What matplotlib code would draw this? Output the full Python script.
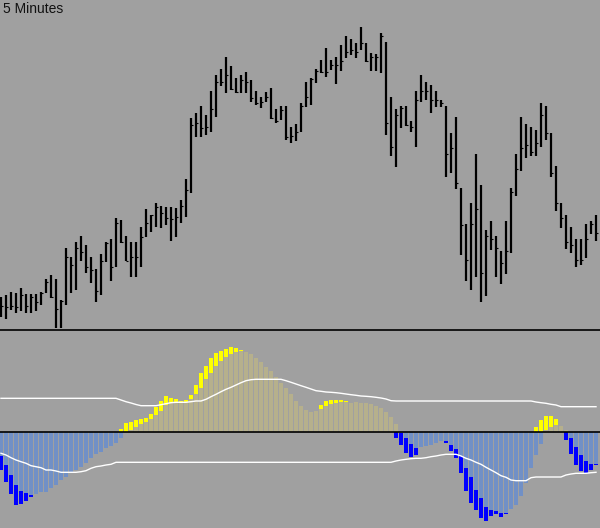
import numpy as np
import matplotlib
matplotlib.use('Agg')
import matplotlib.pyplot as plt

# price bars (arbitrary points, 120 x 5-minute bars)
highs = [32.7, 35, 38.3, 36.7, 42, 36, 36, 35.7, 38.3, 50.7,
         55, 50.7, 30, 81.7, 73.3, 88.3, 94, 85, 73.3, 60.7,
         76, 88.3, 90.7, 111.7, 110, 94, 88.3, 88.3, 103.3, 120.7,
         115, 126.7, 124, 123.3, 123.3, 121.7, 130, 151, 212, 217.3,
         224, 215, 239.3, 255, 260.7, 273.3, 264, 251.7, 255, 258.3,
         250, 239.3, 233.3, 238.3, 241.7, 220.7, 224, 224, 203.3, 206,
         226.7, 248.3, 251.7, 260.7, 270, 281.7, 270, 273.3, 285, 294,
         290.7, 287.3, 303.3, 286.7, 276.7, 276, 296.7, 288.3, 232.7, 220.7,
         224, 224, 209.3, 239.3, 255, 248.3, 245, 239.3, 230, 224,
         197.3, 212.7, 141.7, 106, 127.3, 176, 145, 100, 109, 94,
         79.3, 109, 141.7, 176, 212.7, 206, 203.3, 200, 227.3, 224,
         197.3, 164, 127.3, 115, 103.3, 90.7, 90.7, 106, 109.3, 115]
lows = [13.3, 10.7, 20, 16.7, 19.3, 16.7, 16.7, 19.3, 25, 36.7,
        31.7, 1.7, 1.7, 25, 36.7, 40, 69, 56.7, 46.7, 28.3,
        35, 68.3, 49.3, 62.7, 86.7, 69, 53.3, 53.3, 62.7, 92.7,
        98.3, 103.3, 101.7, 105, 89.3, 92.7, 107.3, 113.3, 137.3, 193.3,
        192.7, 195, 198.3, 213.3, 244, 237.3, 240, 237.3, 237.3, 237.3,
        228.3, 225, 221.7, 228.3, 210.7, 207.3, 210, 190, 186.7, 189.3,
        198.3, 223.3, 225, 246.7, 256.7, 253.3, 260, 246, 259.3, 271.7,
        275, 271.7, 280, 268.3, 259.3, 259.3, 256.7, 195, 174, 162.7,
        201.7, 204, 198.3, 183.3, 228.3, 230, 216.7, 222.7, 222.7, 153.3,
        156.7, 140.7, 75, 49.3, 40, 53.3, 28.3, 34, 80, 53.3,
        46, 56, 77.3, 134, 159.3, 171.7, 174, 174, 183.3, 190,
        153.3, 119.3, 101.7, 80.7, 77.3, 62.7, 65, 71.7, 96, 89.3]
closes = [24, 23.3, 24, 23.3, 35, 24, 33, 28, 36.7, 48.3,
          32.7, 21, 29.3, 72.7, 65, 81.7, 78.3, 62.7, 60, 39.3,
          69.3, 87.3, 63.3, 106.7, 88.3, 69.3, 72.7, 72.7, 93.3, 106.7,
          115, 123.3, 117.3, 111.7, 110.7, 112.7, 124, 140, 205, 206.7,
          201.7, 203.3, 220.7, 248.3, 248.3, 255, 240.7, 238.3, 250, 248.3,
          231.7, 226.7, 228.3, 233.3, 211.7, 209.3, 220, 193.3, 194, 198.3,
          224, 233.3, 250.7, 259.3, 258.3, 258.3, 265, 265, 269.3, 278.3,
          280, 278.3, 287.3, 269.3, 273.3, 273.3, 294, 206.7, 182.7, 215,
          221.7, 205, 202.7, 230, 239.3, 239.3, 230, 230, 227.3, 176,
          181.7, 147.3, 105, 70, 106, 120.7, 57.3, 94, 90.7, 81.7,
          66.7, 79.3, 138.3, 160.7, 181.7, 185, 178.3, 187.3, 215, 196.7,
          157.3, 127.3, 111.7, 88.3, 85, 70, 70, 90.7, 106, 97.3]

# oscillator: slow histogram, fast histogram, upper / lower band
slow = [-23.7, -32.7, -42.7, -52.7, -58.7, -61, -62.4, -62, -60, -59.4,
        -56, -52.7, -47.7, -44.4, -39.4, -37.7, -34.4, -30.4, -26, -21.7,
        -19.4, -16, -13.7, -10.4, -6, 0.7, 2.3, 5.7, 8.3, 10.7,
        13, 17.3, 21.7, 27.3, 29.7, 30.7, 30, 30.7, 33.3, 38.3,
        44, 53, 59, 66.7, 71.3, 75.7, 78.3, 80.7, 81.3, 80.7,
        78, 74.7, 70.7, 65.7, 61.7, 55.7, 49, 44, 38.3, 31.7,
        26.3, 22.3, 20.7, 21.7, 23.3, 26.3, 28.3, 29.7, 30.3, 30.3,
        29.7, 30, 29.7, 29.7, 28.3, 26.3, 24, 20.7, 15.7, 8.3,
        -1, -6, -11.7, -16, -15, -13.3, -12.7, -11, -8.7, -8.7,
        -12.7, -16.7, -23.7, -35.3, -44.3, -57.7, -66, -74.3, -77.7, -78.7,
        -80.3, -80.3, -77, -72.7, -63.7, -51, -36, -22.7, -11.7, 2,
        5, 7.3, 6.3, 2, -6, -14.3, -22.7, -28.3, -31.7, -31.7]
fast = [-37.7, -49.4, -61.7, -72.7, -71.7, -68.7, -64.4, -60, -56, -53,
        -48, -43, -36, -33, -28, -26, -22, -17, -12, -9,
        -7, -4, -2, -1, 3.3, 9, 10.7, 12.3, 13, 14,
        18.3, 25, 31.3, 36.3, 34, 33.3, 31.7, 32.3, 37.3, 47.3,
        59, 66.3, 74, 79, 81.7, 83.3, 85.7, 84.7, 82.3, 78,
        72, 65, 58, 50, 44, 36, 29, 24, 19, 15,
        14, 16, 19, 21, 27.3, 31.3, 32.3, 32.3, 32, 31.3,
        29, 28, 27, 26, 22, 17, 12, 5, 1, -5.3,
        -12.7, -20.3, -24.3, -22.7, -14, -10, -9, -8, -8, -11,
        -18.7, -25.3, -40.3, -58.3, -70.3, -77.7, -86, -88.3, -83.3, -81.7,
        -84.3, -81.7, -72, -60, -45, -28, -12, 5, 12.3, 16.3,
        16.3, 13, 4, -7.7, -21.7, -32.7, -38.3, -40.3, -37.7, -32.7]
upper = [34, 34, 34, 34, 34, 34, 34, 34, 34, 34,
         34, 34, 34, 34, 34, 34, 34, 34, 34, 34,
         34, 34, 34, 34, 32.3, 30.6, 29.3, 27.8, 26.6, 26.6,
         26.6, 26.6, 27.6, 28.6, 29.6, 30, 30, 30, 30.6, 31.3,
         31.3, 33, 35.6, 38, 40.6, 43, 45, 47.3, 49.6, 51.6,
         52.6, 53, 53, 53, 53, 53, 53, 51.6, 50, 48.3,
         46.6, 45, 43.3, 41.6, 41, 40.3, 40, 39.6, 39, 38.3,
         37.6, 37, 36.3, 36, 35.6, 35, 34.3, 33.3, 31.6, 31.3,
         31.3, 31.3, 31.3, 31.3, 31.3, 31.3, 31.3, 31.3, 31.3, 31.3,
         31.3, 31.3, 31.3, 31.3, 31.3, 31.3, 31.3, 31.3, 31.3, 31.3,
         31.3, 31.3, 31.3, 31.3, 31.3, 31.3, 31.3, 30.3, 29.6, 29,
         28, 27.3, 25.6, 25.6, 25.6, 25.6, 25.6, 25.6, 25.6, 25.6]
lower = [-21, -22.7, -25.4, -27.7, -29.4, -31, -33.4, -34.4, -35.4, -37.7,
         -37.7, -38.7, -40, -40, -40, -40, -39.4, -38.4, -36, -34.4,
         -33.7, -32.7, -32, -30, -30, -30, -30, -30, -30, -30,
         -30, -30, -30, -30, -30, -30, -30, -30, -30, -30,
         -30, -30, -30, -30, -30, -30, -30, -30, -30, -30,
         -30, -30, -30, -30, -30, -30, -30, -30, -30, -30,
         -30, -30, -30, -30, -30, -30, -30, -30, -30, -30,
         -30, -30, -30, -30, -30, -30, -30, -30, -30, -28.7,
         -27.7, -27, -26.4, -26, -26, -25.4, -24.4, -23.7, -22.7, -22,
         -22, -22, -23.7, -26, -27.7, -30, -32, -35, -37.7, -40.4,
         -43.4, -45, -47.7, -48.4, -48.4, -48.4, -45.4, -44.7, -44.7, -44.7,
         -44.7, -44.7, -44.7, -42.7, -41.7, -41, -41, -41, -40.4, -40]

bg = '#a0a0a0'
x = np.arange(len(highs))
slow = np.array(slow)
fast = np.array(fast)

fig = plt.figure(figsize=(6, 5.28), dpi=100, facecolor=bg)
ax1 = fig.add_axes([0, 198 / 528, 1, 330 / 528], facecolor=bg)
ax2 = fig.add_axes([0, 0, 1, 198 / 528], facecolor=bg)

# price panel
ax1.vlines(x, lows, highs, color='black', lw=1.6)
ax1.hlines(closes, x, x + 0.45, color='black', lw=0.8)
ax1.set_xlim(-0.2, 119.8)
ax1.set_ylim(0, 330)
ax1.text(0.005, 0.993, '5 Minutes', transform=ax1.transAxes, ha='left', va='top',
         fontsize=10, family='Liberation Sans', color='#111111')

# oscillator panel: fast drawn first, slow on top of it
fast_col = np.where(fast > 0, '#ffff00', '#0000ff')
slow_col = np.where(slow > 0, '#b6b08c', '#7190c6')
ax2.bar(x, fast, width=0.62, color=fast_col, lw=0)
ax2.bar(x, slow, width=0.62, color=slow_col, lw=0)
ax2.plot(x, upper, color='white', lw=1)
ax2.plot(x, lower, color='white', lw=1)
ax2.axhline(0, color='black', lw=1.2)
ax2.set_xlim(-0.2, 119.8)
ax2.set_ylim(-95.7, 102.3)

for ax in (ax1, ax2):
    ax.set_xticks([])
    ax.set_yticks([])
    for s in ax.spines.values():
        s.set_visible(False)
ax2.spines['top'].set_visible(True)
ax2.spines['top'].set_color('black')
ax2.spines['top'].set_linewidth(1.2)

fig.savefig('out.png', dpi=100, facecolor=bg)
